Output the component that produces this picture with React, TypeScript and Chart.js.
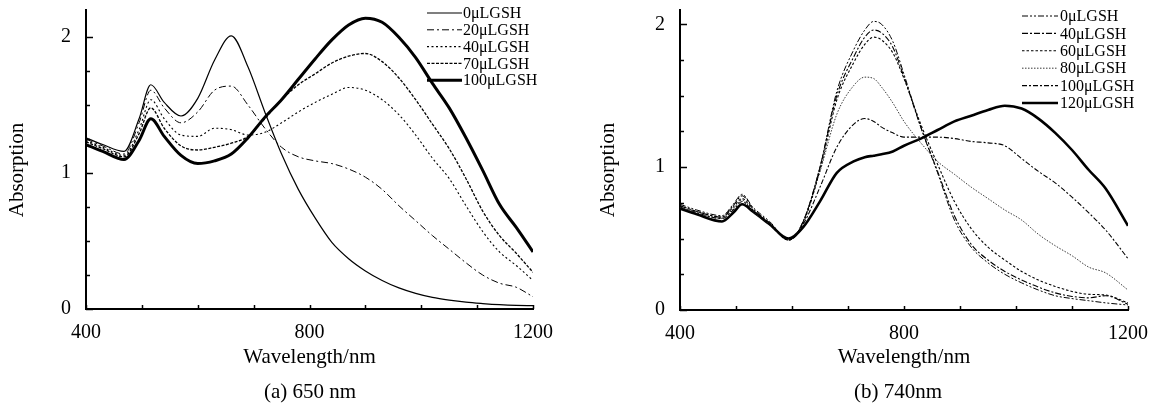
import React, { useEffect, useRef } from 'react';
import { Chart, registerables } from 'chart.js';

Chart.register(...registerables);

// ---------- Panel (a) 650 nm ----------
const wavelengthsA = [400, 430, 468, 495, 516, 540, 570, 600, 630, 660, 690, 720, 750, 780, 810, 840, 870, 900, 930, 960, 990, 1020, 1050, 1080, 1110, 1140, 1170, 1200];
const a_0 = [1.26, 1.21, 1.16, 1.40, 1.65, 1.52, 1.42, 1.55, 1.83, 2.01, 1.78, 1.45, 1.14, 0.88, 0.67, 0.49, 0.37, 0.28, 0.21, 0.155, 0.115, 0.085, 0.065, 0.05, 0.04, 0.032, 0.027, 0.025];
const a_20 = [1.25, 1.20, 1.14, 1.37, 1.61, 1.48, 1.37, 1.45, 1.61, 1.64, 1.50, 1.33, 1.19, 1.12, 1.09, 1.07, 1.03, 0.97, 0.88, 0.76, 0.65, 0.54, 0.44, 0.34, 0.25, 0.19, 0.16, 0.09];
const a_40 = [1.24, 1.19, 1.13, 1.32, 1.54, 1.40, 1.28, 1.27, 1.33, 1.32, 1.28, 1.30, 1.37, 1.45, 1.52, 1.58, 1.63, 1.61, 1.54, 1.43, 1.28, 1.11, 0.96, 0.76, 0.57, 0.42, 0.32, 0.21];
const a_70 = [1.23, 1.18, 1.12, 1.29, 1.48, 1.33, 1.20, 1.17, 1.19, 1.22, 1.27, 1.40, 1.54, 1.65, 1.73, 1.81, 1.86, 1.88, 1.82, 1.70, 1.54, 1.36, 1.18, 0.96, 0.72, 0.54, 0.41, 0.27];
const a_100 = [1.21, 1.16, 1.10, 1.24, 1.40, 1.27, 1.13, 1.07, 1.09, 1.14, 1.26, 1.41, 1.54, 1.69, 1.84, 1.98, 2.09, 2.14, 2.11, 2.00, 1.85, 1.66, 1.48, 1.26, 1.02, 0.77, 0.60, 0.42];
const seriesLabelsA = ['0μLGSH', '20μLGSH', '40μLGSH', '70μLGSH', '100μLGSH'];

// ---------- Panel (b) 740 nm ----------
const wavelengthsB = [400, 430, 475, 495, 511, 530, 560, 594, 620, 650, 680, 710, 730, 746, 760, 780, 800, 830, 860, 890, 920, 950, 980, 1010, 1040, 1070, 1100, 1130, 1160, 1200];
const b_0 = [0.74, 0.70, 0.66, 0.74, 0.81, 0.72, 0.62, 0.49, 0.62, 1.00, 1.53, 1.82, 1.96, 2.02, 2.00, 1.88, 1.65, 1.28, 0.96, 0.63, 0.44, 0.33, 0.25, 0.19, 0.14, 0.10, 0.08, 0.065, 0.05, 0.035];
const b_40 = [0.73, 0.69, 0.65, 0.73, 0.80, 0.71, 0.61, 0.49, 0.62, 1.00, 1.50, 1.77, 1.91, 1.96, 1.94, 1.84, 1.63, 1.28, 0.97, 0.66, 0.46, 0.35, 0.27, 0.21, 0.16, 0.12, 0.095, 0.085, 0.10, 0.04];
const b_60 = [0.73, 0.69, 0.65, 0.72, 0.78, 0.70, 0.60, 0.49, 0.61, 0.98, 1.47, 1.73, 1.86, 1.91, 1.89, 1.80, 1.62, 1.30, 1.02, 0.76, 0.57, 0.44, 0.35, 0.27, 0.21, 0.165, 0.13, 0.11, 0.105, 0.05];
const b_80 = [0.72, 0.68, 0.64, 0.71, 0.77, 0.69, 0.60, 0.49, 0.62, 0.97, 1.37, 1.57, 1.63, 1.62, 1.56, 1.45, 1.32, 1.17, 1.04, 0.95, 0.86, 0.78, 0.70, 0.63, 0.53, 0.45, 0.38, 0.30, 0.26, 0.14];
const b_100 = [0.72, 0.68, 0.64, 0.70, 0.76, 0.69, 0.60, 0.49, 0.60, 0.86, 1.14, 1.30, 1.34, 1.32, 1.28, 1.24, 1.21, 1.21, 1.21, 1.20, 1.18, 1.17, 1.15, 1.06, 0.97, 0.89, 0.79, 0.68, 0.56, 0.36];
const b_120 = [0.71, 0.67, 0.62, 0.68, 0.74, 0.69, 0.60, 0.50, 0.58, 0.76, 0.96, 1.04, 1.07, 1.08, 1.09, 1.11, 1.15, 1.20, 1.26, 1.32, 1.36, 1.40, 1.43, 1.41, 1.34, 1.24, 1.12, 0.98, 0.85, 0.59];
const seriesLabelsB = ['0μLGSH', '40μLGSH', '60μLGSH', '80μLGSH', '100μLGSH', '120μLGSH'];

// tick labels
const xLabelValues = [400, 800, 1200];
const yLabelValues = [0, 1, 2];

const SERIF = '"Liberation Serif", "Times New Roman", serif';

type Style = { width: number; dash: number[]; color: string };
const stylesA: Style[] = [
  { width: 1.2, dash: [], color: '#000' },
  { width: 1, dash: [7, 3, 2, 3], color: '#000' },
  { width: 1.1, dash: [2, 2.5], color: '#000' },
  { width: 1.3, dash: [3, 1.5], color: '#000' },
  { width: 3, dash: [], color: '#000' },
];
const stylesB: Style[] = [
  { width: 1, dash: [6, 2, 2, 2, 2, 2], color: '#000' },
  { width: 1.1, dash: [6, 2, 2, 2], color: '#000' },
  { width: 1.1, dash: [2.5, 2], color: '#000' },
  { width: 0.9, dash: [1.5, 1.5], color: '#222' },
  { width: 1.1, dash: [5, 2, 2, 2], color: '#000' },
  { width: 2.6, dash: [], color: '#000' },
];

type PanelCfg = {
  wavelengths: number[];
  series: number[][];
  labels: string[];
  styles: Style[];
  yMax: number;
  left: number;
  right: number;
  top: number;
  bottom: number;
  width: number;
  yTitleX: number;
  yTitleY: number;
  caption: string;
  captionX: number;
  legendLineX0: number;
  legendLineX1: number;
  legendTextX: number;
  legendY0: number;
  legendStep: number;
};

function makeDecor(cfg: PanelCfg) {
  return {
    id: 'decor',
    afterDraw(chart: any) {
      const ctx: CanvasRenderingContext2D = chart.ctx;
      const xs = chart.scales.x;
      const ys = chart.scales.y;
      const area = chart.chartArea;
      ctx.save();
      ctx.strokeStyle = '#000';
      ctx.lineWidth = 1.5;
      ctx.setLineDash([]);
      xs.ticks.forEach((t: any) => {
        const px = Math.round(xs.getPixelForValue(t.value)) + 0.5;
        ctx.beginPath();
        ctx.moveTo(px, area.bottom);
        ctx.lineTo(px, area.bottom - 4);
        ctx.stroke();
      });
      ys.ticks.forEach((t: any) => {
        const py = Math.round(ys.getPixelForValue(t.value)) + 0.5;
        const len = Number.isInteger(t.value) ? 7 : 4;
        ctx.beginPath();
        ctx.moveTo(area.left, py);
        ctx.lineTo(area.left + len, py);
        ctx.stroke();
      });
      ctx.fillStyle = '#000';
      ctx.font = `21px ${SERIF}`;
      ctx.textAlign = 'center';
      ctx.textBaseline = 'middle';
      ctx.save();
      ctx.translate(cfg.yTitleX, cfg.yTitleY);
      ctx.rotate(-Math.PI / 2);
      ctx.fillText('Absorption', 0, 0);
      ctx.restore();
      ctx.textBaseline = 'alphabetic';
      ctx.fillText(cfg.caption, cfg.captionX, 398);
      ctx.font = `16px ${SERIF}`;
      ctx.textAlign = 'left';
      ctx.textBaseline = 'middle';
      chart.data.datasets.forEach((ds: any, i: number) => {
        const y = cfg.legendY0 + i * cfg.legendStep;
        ctx.save();
        ctx.strokeStyle = ds.borderColor;
        ctx.lineWidth = ds.borderWidth;
        ctx.setLineDash(ds.borderDash || []);
        ctx.beginPath();
        ctx.moveTo(cfg.legendLineX0, y);
        ctx.lineTo(cfg.legendLineX1, y);
        ctx.stroke();
        ctx.restore();
        ctx.fillText(ds.label, cfg.legendTextX, y + 1);
      });
      ctx.restore();
    },
  };
}

function Panel({ cfg }: { cfg: PanelCfg }) {
  const ref = useRef<HTMLCanvasElement | null>(null);
  useEffect(() => {
    if (!ref.current) return;
    const datasets = cfg.series.map((vals, i) => ({
      label: cfg.labels[i],
      data: cfg.wavelengths.map((w, j) => ({ x: w, y: vals[j] })),
      borderColor: cfg.styles[i].color,
      borderWidth: cfg.styles[i].width,
      borderDash: cfg.styles[i].dash,
      pointRadius: 0,
      fill: false,
      cubicInterpolationMode: 'monotone' as const,
    }));
    const chart = new Chart(ref.current, {
      type: 'line',
      data: { datasets },
      options: {
        animation: false,
        responsive: false,
        layout: { padding: { top: cfg.top, right: cfg.width - cfg.right, left: 0, bottom: 0 } },
        plugins: { legend: { display: false }, tooltip: { enabled: false }, title: { display: false } },
        scales: {
          x: {
            type: 'linear',
            min: 400,
            max: 1200,
            border: { display: true, width: 2, color: '#000' },
            grid: { display: false, drawTicks: false },
            ticks: {
              stepSize: 100,
              autoSkip: false,
              maxRotation: 0,
              color: '#000',
              padding: 12,
              font: { family: SERIF, size: 20 },
              callback: (v: any) => (xLabelValues.includes(Number(v)) ? String(v) : ''),
            },
            title: {
              display: true,
              text: 'Wavelength/nm',
              color: '#000',
              font: { family: SERIF, size: 21 },
              padding: { top: 0, bottom: 36 },
            },
            afterFit: (s: any) => {
              s.height = 406 - cfg.bottom;
              s.paddingLeft = 0;
              s.paddingRight = 0;
            },
          },
          y: {
            type: 'linear',
            min: 0,
            max: cfg.yMax,
            border: { display: true, width: 2, color: '#000' },
            grid: { display: false, drawTicks: false },
            ticks: {
              stepSize: 0.25,
              autoSkip: false,
              includeBounds: false,
              color: '#000',
              padding: 15,
              font: { family: SERIF, size: 20 },
              callback: (v: any) => (yLabelValues.includes(Number(v)) ? String(v) : ''),
            },
            afterFit: (s: any) => {
              s.width = cfg.left;
              s.paddingTop = 0;
              s.paddingBottom = 0;
            },
          },
        },
      } as any,
      plugins: [makeDecor(cfg)],
    });
    return () => chart.destroy();
  }, [cfg]);
  return <canvas ref={ref} width={cfg.width} height={406} style={{ display: 'block', width: cfg.width, height: 406 }} />;
}

const cfgA: PanelCfg = {
  wavelengths: wavelengthsA,
  series: [a_0, a_20, a_40, a_70, a_100],
  labels: seriesLabelsA,
  styles: stylesA,
  yMax: 2.2,
  left: 86,
  right: 533,
  top: 10,
  bottom: 309,
  width: 580,
  yTitleX: 17,
  yTitleY: 170,
  caption: '(a) 650 nm',
  captionX: 310,
  legendLineX0: 427,
  legendLineX1: 462,
  legendTextX: 463,
  legendY0: 13,
  legendStep: 16.8,
};

const cfgB: PanelCfg = {
  wavelengths: wavelengthsB,
  series: [b_0, b_40, b_60, b_80, b_100, b_120],
  labels: seriesLabelsB,
  styles: stylesB,
  yMax: 2.1,
  left: 100,
  right: 548,
  top: 10,
  bottom: 310,
  width: 579,
  yTitleX: 28,
  yTitleY: 170,
  caption: '(b) 740nm',
  captionX: 318,
  legendLineX0: 442,
  legendLineX1: 478,
  legendTextX: 480,
  legendY0: 16,
  legendStep: 17.4,
};

export default function App() {
  return (
    <div style={{ position: 'absolute', left: 0, top: 0, width: 1159, height: 406, background: '#fff', display: 'flex' }}>
      <Panel cfg={cfgA} />
      <Panel cfg={cfgB} />
    </div>
  );
}
